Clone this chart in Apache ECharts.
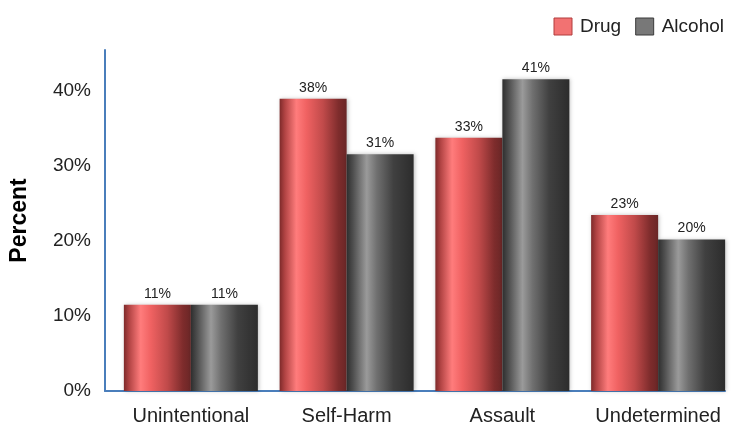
<!DOCTYPE html>
<html>
<head>
<meta charset="utf-8">
<script src="https://cdn.jsdelivr.net/npm/echarts@6/dist/echarts.min.js"></script>
<style>html,body{margin:0;padding:0;background:#fff}#c{width:738px;height:428px}</style>
</head>
<body>
<div id="c"></div>
<script>
const categories = ['Unintentional', 'Self-Harm', 'Assault', 'Undetermined'];
const drugValues = [11.5, 39.0, 33.8, 23.5];
const alcoholValues = [11.5, 31.6, 41.6, 20.2];
const drugLabels = ['11%', '38%', '33%', '23%'];
const alcoholLabels = ['11%', '31%', '41%', '20%'];
const yTicks = [0, 10, 20, 30, 40];

const FONT = '"Liberation Sans", Arial, sans-serif';
function grad(stops) {
  return new echarts.graphic.LinearGradient(0, 0, 1, 0, stops.map(s => ({offset: s[0], color: s[1]})));
}
const redGrad = grad([[0, '#7e2a2a'], [0.08, '#b24444'], [0.25, '#ff7c7c'], [0.4, '#f06262'], [0.65, '#c04a4a'], [0.88, '#7e2c2c'], [1, '#6a2626']]);
const greyGrad = grad([[0, '#2e2e2e'], [0.1, '#505050'], [0.3, '#9a9a9a'], [0.45, '#707070'], [0.7, '#404040'], [1, '#2c2c2c']]);

const chart = echarts.init(document.getElementById('c'), null, {renderer: 'canvas'});
chart.setOption({
  backgroundColor: '#ffffff',
  animation: false,
  legend: {
    right: 9, top: 12, itemWidth: 18, itemHeight: 17, itemGap: 14, icon: 'rect',
    textStyle: {fontFamily: FONT, fontSize: 19, color: '#222', padding: [0, 0, 0, 3]},
    data: [
      {name: 'Drug', itemStyle: {color: '#f27272', borderColor: '#b23c3c', borderWidth: 1}},
      {name: 'Alcohol', itemStyle: {color: '#787878', borderColor: '#3a3a3a', borderWidth: 1}}
    ]
  },
  grid: [
    {left: 113, right: 2, top: 50, bottom: 37},
    {left: 105, right: 13, top: 50, bottom: 37}
  ],
  xAxis: [
    {
      type: 'category', data: categories, gridIndex: 0,
      axisLine: {show: false}, axisTick: {show: false},
      axisLabel: {fontFamily: FONT, fontSize: 20, color: '#222', margin: 15, interval: 0}
    },
    {
      type: 'value', gridIndex: 1, min: 0, max: 1,
      axisLine: {show: true, lineStyle: {color: '#4a7ebb', width: 2}},
      axisTick: {show: false}, axisLabel: {show: false}, splitLine: {show: false}
    }
  ],
  yAxis: [
    {
      type: 'value', gridIndex: 0, min: yTicks[0], max: 45.5, interval: 10, offset: 8,
      axisLine: {show: true, lineStyle: {color: '#4a7ebb', width: 2}},
      axisTick: {show: false}, splitLine: {show: false},
      axisLabel: {fontFamily: FONT, fontSize: 19, color: '#222', margin: 14,
        formatter: v => yTicks.includes(v) ? v + '%' : ''},
      name: 'Percent', nameLocation: 'middle', nameRotate: 90, nameGap: 74,
      nameTextStyle: {fontFamily: FONT, fontSize: 23, fontWeight: 'bold', color: '#000'}
    },
    {type: 'value', gridIndex: 1, show: false, min: 0, max: 1}
  ],
  series: [
    {
      name: 'Drug', type: 'bar', data: drugValues, barWidth: 67, barGap: '0%',
      xAxisIndex: 0, yAxisIndex: 0,
      itemStyle: {color: redGrad, shadowColor: 'rgba(0,0,0,0.25)', shadowBlur: 4, shadowOffsetX: 1},
      label: {show: true, position: 'top', distance: 4, fontFamily: FONT, fontSize: 14, color: '#222',
        formatter: p => drugLabels[p.dataIndex]}
    },
    {
      name: 'Alcohol', type: 'bar', data: alcoholValues, barWidth: 67,
      xAxisIndex: 0, yAxisIndex: 0,
      itemStyle: {color: greyGrad, shadowColor: 'rgba(0,0,0,0.25)', shadowBlur: 4, shadowOffsetX: 1},
      label: {show: true, position: 'top', distance: 4, fontFamily: FONT, fontSize: 14, color: '#222',
        formatter: p => alcoholLabels[p.dataIndex]}
    }
  ]
});
</script>
</body>
</html>
